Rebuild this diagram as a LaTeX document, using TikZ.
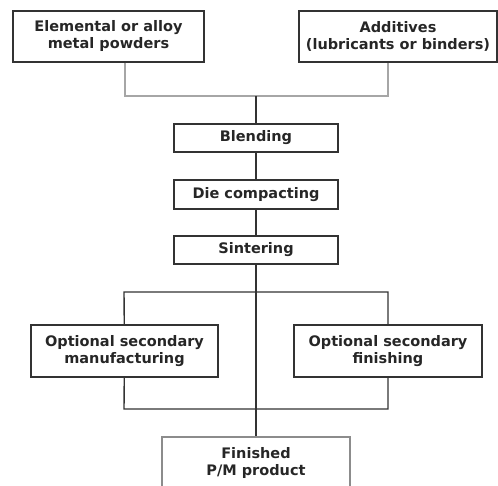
\documentclass[tikz,border=0pt]{standalone}
\usepackage{fontspec}
\setmainfont{DejaVu Sans}
\usetikzlibrary{positioning}
\tikzset{stepbox/.style={draw=black!80,line width=1.4pt,rectangle,align=center,inner sep=0,
        font=\bfseries\fontsize{14.5}{17}\selectfont,text=black!85},
    wire/.style={draw=black!80,line width=1.4pt},
    feedwire/.style={draw=black!35,line width=1.6pt}
}

\begin{document}
\begin{tikzpicture}[x=1pt,y=-1pt]
\useasboundingbox (0,0) rectangle (498,486);

% raw materials
\node (powders) at (108.5,36.5) [stepbox,minimum width=191,minimum height=51] {Elemental or alloy\\metal powders};
\node (additives) at (398,36.5) [stepbox,minimum width=198,minimum height=51] {Additives\\(lubricants or binders)};

% main line
\node (blend) at (256,138) [stepbox,minimum width=164,minimum height=28] {Blending};
\node (die) at (256,194.5) [stepbox,minimum width=164,minimum height=29] {Die compacting};
\node (sinter) at (256,250) [stepbox,minimum width=164,minimum height=28] {Sintering};

% optional side steps
\node (manu) at (124.5,351) [stepbox,minimum width=187,minimum height=52] {Optional secondary\\manufacturing};
\node (finish) at (388,351) [stepbox,minimum width=188,minimum height=52] {Optional secondary\\finishing};

\node (product) at (256,462.5) [stepbox,draw=black!45,minimum width=188,minimum height=51] {Finished\\P/M product};

% junctions
\coordinate (feedL) at (125,96);
\coordinate (feedR) at (388,96);
\coordinate (feedC) at (256,96);
\coordinate (splitL) at (124,292);
\coordinate (splitR) at (388,292);
\coordinate (mergeL) at (124,409);
\coordinate (mergeR) at (388,409);

\draw [feedwire] (feedL |- powders.south) -- (feedL) -- (feedR) -- (feedR |- additives.south);
\draw [wire] (feedC) -- (blend);
\draw [wire] (blend) -- (die);
\draw [wire] (die) -- (sinter);
\draw [wire] (sinter) -- (product);

\draw [wire] (manu) -- (splitL) -- (splitR) -- (finish);
\draw [wire] (manu) -- (mergeL) -- (mergeR) -- (finish);

\end{tikzpicture}
\end{document}
